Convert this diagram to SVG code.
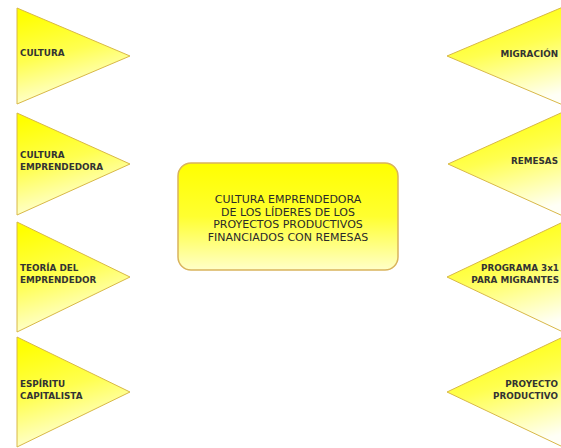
<svg xmlns="http://www.w3.org/2000/svg" width="561" height="448" viewBox="0 0 561 448">
<defs>
<linearGradient id="gt" x1="0.3" y1="0" x2="0.6" y2="1">
<stop offset="0" stop-color="#ffff00"/>
<stop offset="0.45" stop-color="#ffff50"/>
<stop offset="1" stop-color="#fffff6"/>
</linearGradient>
<linearGradient id="gb" x1="0" y1="0" x2="0" y2="1">
<stop offset="0" stop-color="#ffff00"/>
<stop offset="0.5" stop-color="#ffff30"/>
<stop offset="1" stop-color="#ffffc8"/>
</linearGradient>
</defs>
<style>
.tri{fill:url(#gt);stroke:#d8b848;stroke-width:1;stroke-linejoin:round}
.box{fill:url(#gb);stroke:#d9b45c;stroke-width:1.5}
.lbl{font-family:"DejaVu Sans",sans-serif;font-weight:bold;font-size:8.8px;fill:#333333}
.r{text-anchor:end}
.ctr{font-family:"DejaVu Sans",sans-serif;font-size:11px;fill:#2a2a2a;text-anchor:middle}
</style>
<rect width="561" height="448" fill="#ffffff"/>
<g id="connectors"/>
<g id="cultura">
<polygon class="tri" points="17,8 17,104 130,56"/>
<text class="lbl" x="20" y="56">CULTURA</text>
</g>
<g id="cultura-emprendedora">
<polygon class="tri" points="17,113 17,215 130,164"/>
<text class="lbl" x="20" y="158">CULTURA</text>
<text class="lbl" x="20" y="170">EMPRENDEDORA</text>
</g>
<g id="teoria">
<polygon class="tri" points="17,222 17,332 130,277"/>
<text class="lbl" x="20" y="271">TEORÍA DEL</text>
<text class="lbl" x="20" y="283">EMPRENDEDOR</text>
</g>
<g id="espiritu">
<polygon class="tri" points="17,337 17,447 130,392"/>
<text class="lbl" x="20" y="387">ESPÍRITU</text>
<text class="lbl" x="20" y="399">CAPITALISTA</text>
</g>
<g id="migracion">
<polygon class="tri" points="447,56 563,7 563,105"/>
<text class="lbl r" x="558" y="57">MIGRACIÓN</text>
</g>
<g id="remesas">
<polygon class="tri" points="448,164 563,112 563,216"/>
<text class="lbl r" x="558" y="164">REMESAS</text>
</g>
<g id="programa">
<polygon class="tri" points="447,277 563,222 563,332"/>
<text class="lbl r" x="559" y="271">PROGRAMA 3x1</text>
<text class="lbl r" x="559" y="283">PARA MIGRANTES</text>
</g>
<g id="proyecto">
<polygon class="tri" points="447,392 563,337 563,447"/>
<text class="lbl r" x="558" y="387">PROYECTO</text>
<text class="lbl r" x="558" y="399">PRODUCTIVO</text>
</g>
<g id="centro">
<rect class="box" x="178" y="163" width="220" height="107" rx="13" ry="13"/>
<text class="ctr" x="288" y="203">CULTURA EMPRENDEDORA</text>
<text class="ctr" x="288" y="215.5">DE LOS LÍDERES DE LOS</text>
<text class="ctr" x="288" y="228">PROYECTOS PRODUCTIVOS</text>
<text class="ctr" x="288" y="240.5">FINANCIADOS CON REMESAS</text>
</g>
</svg>
